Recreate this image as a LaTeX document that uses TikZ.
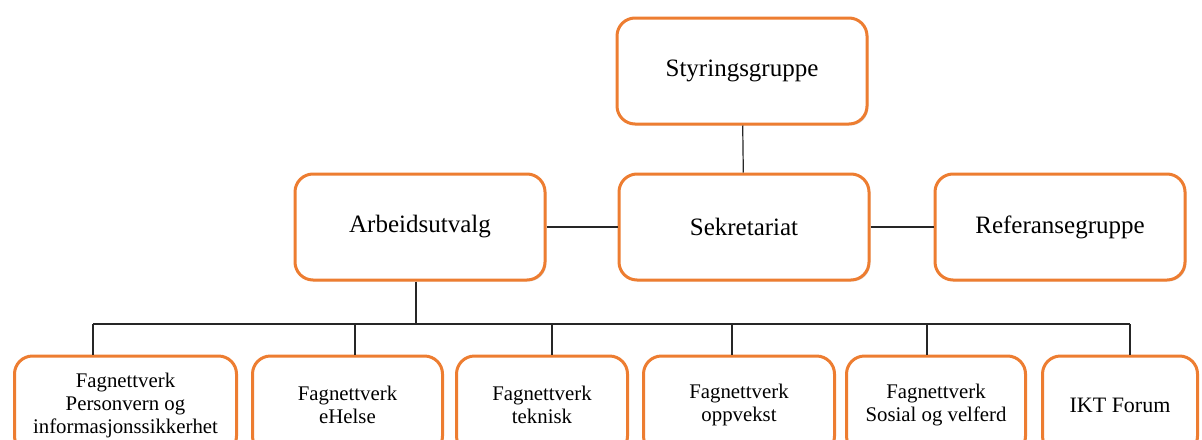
\documentclass[tikz,border=0pt]{standalone}
\usepackage{fontspec}
\setmainfont{Liberation Serif}
\usetikzlibrary{shadows}
\tikzset{
  orgbox/.style={draw=myorange, line width=1.5pt, rounded corners=9pt, fill=white,
    align=center, inner sep=2pt,
    drop shadow={shadow xshift=0.7pt, shadow yshift=-0.7pt, opacity=0.3}},
  topbox/.style={orgbox, minimum width=125pt, minimum height=53pt,
    font=\fontsize{12.5}{15}\selectfont},
  subbox/.style={orgbox, minimum height=49pt, font=\fontsize{10.4}{11.5}\selectfont},
  link/.style={line width=0.6pt, draw=black!85},
}
\begin{document}
\begin{tikzpicture}[x=0.5pt, y=-0.5pt]
\definecolor{myorange}{RGB}{237,125,49}
\useasboundingbox (0,0) rectangle (1202,439);
\clip (0,0) rectangle (1202,439);
\node[topbox] (sty) at (742, 71) {Styringsgruppe}; % top
\node[topbox] (sek) at (744, 227) {Sekretariat};
\node[topbox] (arb) at (420, 227) {Arbeidsutvalg};
\node[topbox] (ref) at (1060, 227) {Referansegruppe};
\node[subbox, minimum width=111pt] (f1) at (125.5, 405) {Fagnettverk\\Personvern og\\informasjonssikkerhet};
\node[subbox, minimum width=95pt] (f2) at (347.5, 405) {Fagnettverk\\eHelse};
\node[subbox, minimum width=85.5pt] (f3) at (542, 405) {Fagnettverk\\teknisk};
\node[subbox, minimum width=95.5pt] (f4) at (739, 405) {Fagnettverk\\oppvekst};
\node[subbox, minimum width=89.5pt] (f5) at (936, 405) {Fagnettverk\\Sosial og velferd};
\node[subbox, minimum width=77.5pt, font=\fontsize{11}{13}\selectfont] (ikt) at (1120, 405) {IKT Forum};

\coordinate (bus) at (416, 324); % bus
\coordinate (d1) at (93, 324);
\coordinate (d2) at (355, 324);
\coordinate (d3) at (552, 324);
\coordinate (d4) at (732, 324);
\coordinate (d5) at (927, 324);
\coordinate (d6) at (1130, 324);

\draw[link] (sty) -- (sek);
\draw[link] (arb) -- (sek);
\draw[link] (sek) -- (ref);
\draw[link] (arb.south -| bus) -- (bus);
\draw[link] (d1) -- (d6);
\draw[link] (d1) -- (d1 |- f1.north);
\draw[link] (d2) -- (d2 |- f2.north);
\draw[link] (d3) -- (d3 |- f3.north);
\draw[link] (d4) -- (d4 |- f4.north);
\draw[link] (d5) -- (d5 |- f5.north);
\draw[link] (d6) -- (d6 |- ikt.north);
\end{tikzpicture}
\end{document}
